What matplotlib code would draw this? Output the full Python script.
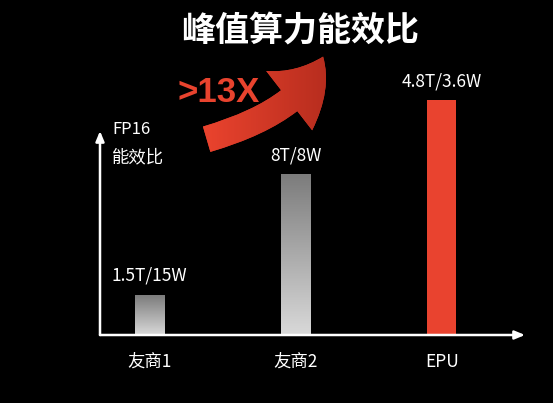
import numpy as np
import matplotlib
matplotlib.use("Agg")
import matplotlib.pyplot as plt
from matplotlib.patches import FancyArrowPatch

plt.rcParams['font.family'] = ['Noto Sans CJK SC', 'DejaVu Sans']

# chart data (bar heights, arbitrary units)
categories = ['友商1', '友商2', 'EPU']
heights = [40, 161, 235]
value_labels = ['1.5T/15W', '8T/8W', '4.8T/3.6W']
title = '峰值算力能效比'
ratio_text = '>13X'
ylabel_lines = ['FP16', '能效比']

W, H = 553, 403
fig = plt.figure(figsize=(W / 100, H / 100), dpi=100, facecolor='black')

# main axes: origin at (100, 335) px, extends up to y=60 px
ax = fig.add_axes([100 / W, (H - 335) / H, 425 / W, 275 / H])
ax.set_facecolor('black')
ax.axis('off')

x = np.arange(len(categories))
bw = 0.2
bars = ax.bar(x, heights, width=bw, color=['#a0a0a0', '#a0a0a0', '#e9432f'],
              linewidth=0, zorder=2)

# grey gradient fills for the competitor bars
gcmap = matplotlib.colors.LinearSegmentedColormap.from_list('g', ['#d9d9d9', '#7c7c7c'])
grad = np.linspace(0, 1, 256).reshape(-1, 1)
for b in list(bars)[:2]:
    x0, y0 = b.get_x(), b.get_y()
    im = ax.imshow(grad, cmap=gcmap, origin='lower', aspect='auto',
                   extent=[x0, x0 + b.get_width(), y0, y0 + b.get_height()], zorder=3)
    im.set_clip_path(b)
ax.set_xlim(-0.34, 2.57)
ax.set_ylim(0, 275)

for xi, h, lab in zip(x, heights, value_labels):
    ax.text(xi, h + 10, lab, color='white', ha='center', va='bottom',
            fontsize=12.5, zorder=4)

for xi, cat in zip(x, categories):
    ax.text(xi, -18, cat, color='white', ha='center', va='top', fontsize=12.5)

# axis arrows
ax.annotate('', xy=(1.0, 0), xytext=(0, 0), xycoords='axes fraction',
            arrowprops=dict(arrowstyle='-|>,head_length=0.6,head_width=0.25',
                            color='white', lw=1.8, shrinkA=0, shrinkB=0))
ax.annotate('', xy=(0, 204), xytext=(0, 0),
            xycoords=('axes fraction', 'data'),
            arrowprops=dict(arrowstyle='-|>,head_length=0.6,head_width=0.25',
                            color='white', lw=1.8, shrinkA=0, shrinkB=0))

# overlay in pixel coordinates for the decorative header
ov = fig.add_axes([0, 0, 1, 1], facecolor='none')
ov.axis('off')

ov.text(300, 31, title, color='white', fontsize=24.5, fontweight='bold',
        ha='center', va='center')
ov.text(219, 92, ratio_text, color='#e8432e', fontsize=25, fontweight='bold',
        ha='center', va='center', family=['Liberation Sans'])
ov.text(112, 130, ylabel_lines[0], color='white', fontsize=12, ha='left', va='center')
ov.text(112, 157, ylabel_lines[1], color='white', fontsize=12.5, ha='left', va='center')

arrow = FancyArrowPatch((204, 140), (324, 54),
                        connectionstyle='angle3,angleA=16,angleB=72',
                        arrowstyle='simple,head_width=5.4,head_length=4.0,tail_width=1.9',
                        mutation_scale=10, color='#d8392a', lw=0, zorder=5)
ov.add_patch(arrow)
rcmap = matplotlib.colors.LinearSegmentedColormap.from_list('r', ['#ee452f', '#b02a1c'])
rgrad = np.linspace(0, 1, 256).reshape(1, -1)
im = ov.imshow(rgrad, cmap=rcmap, aspect='auto', extent=[195, 345, 155, 45], zorder=6)
im.set_clip_path(arrow)
ov.set_xlim(0, W)
ov.set_ylim(H, 0)

fig.savefig('out.png', dpi=100, facecolor='black')
